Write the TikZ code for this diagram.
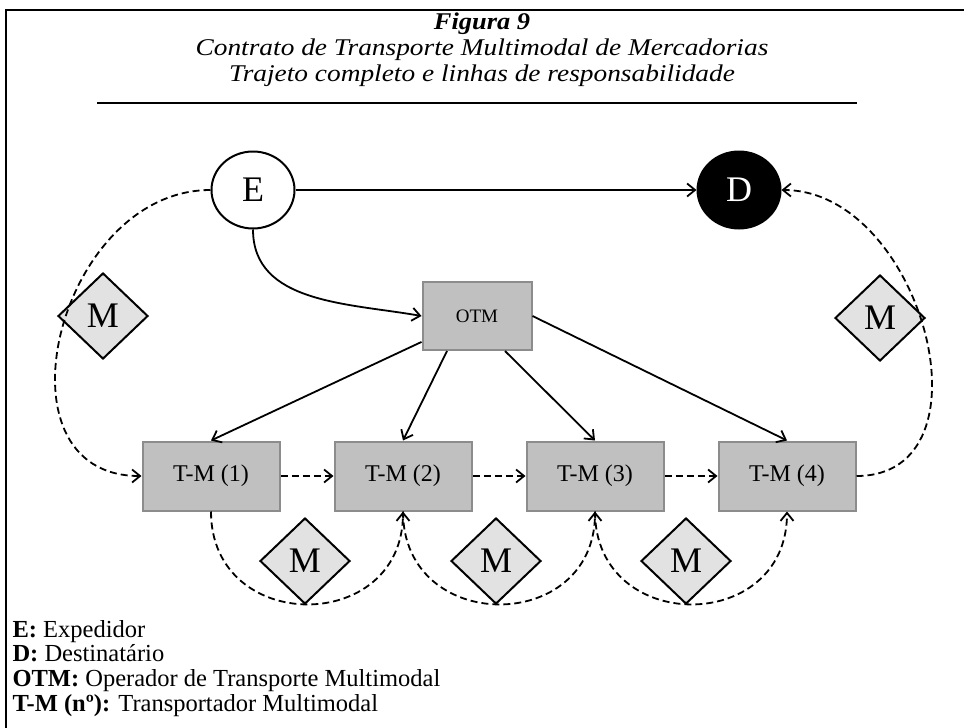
\documentclass[tikz,border=0pt]{standalone}
\usepackage{graphicx}
\usepackage{fontspec}
\setmainfont{Liberation Serif}
\usetikzlibrary{shapes.geometric, arrows.meta, positioning}
\definecolor{boxgray}{HTML}{C0C0C0}
\definecolor{boxedge}{HTML}{8C8C8C}
\definecolor{mgray}{HTML}{E2E2E2}

\begin{document}
\begin{tikzpicture}[x=1pt, y=1pt,
  party/.style={ellipse, draw, line width=2pt, minimum width=83pt,
                minimum height=77pt, inner sep=0pt,
                font=\fontsize{36}{36}\selectfont},
  tm/.style={rectangle, fill=boxgray, draw=boxedge, line width=2pt,
             minimum width=137pt, minimum height=69pt,
             font=\fontsize{24}{24}\selectfont},
  resp/.style={diamond, fill=mgray, draw, line width=2pt,
               minimum width=90pt, minimum height=86pt, inner sep=0pt,
               font=\fontsize{36}{36}\selectfont},
  arr/.style={-{Straight Barb[length=8pt,width=13pt]}, line width=1.8pt},
  darr/.style={arr, dash pattern=on 7pt off 4pt},
  ttl/.style={anchor=base, inner sep=0pt, font=\fontsize{24}{24}\selectfont\itshape},
  legend/.style={anchor=base west, font=\fontsize{24.5}{25}\selectfont},
  node distance=53pt,
]
  \useasboundingbox (0,0) rectangle (964,-728);
  \draw[line width=2.5pt] (6,-10) rectangle (1000,-760);

  %% Title
  \node[ttl, font=\fontsize{24}{24}\selectfont\bfseries\itshape] (fig) at (482,-29) {\scalebox{1.1}[1]{Figura 9}};
  \node[ttl] (tit1) at (482,-55) {\scalebox{1.14}[1]{Contrato de Transporte Multimodal de Mercadorias}};
  \node[ttl] (tit2) at (482,-81) {\scalebox{1.14}[1]{Trajeto completo e linhas de responsabilidade}};
  \draw[line width=1.2pt] (97,-103) -- (857,-103);

  %% Parties and operator
  \node[party] (E) at (253,-190) {E};
  \node[party, fill=black, text=white] (D) at (739,-190) {D};
  \node[tm, minimum width=109pt, minimum height=68pt,
        font=\fontsize{19}{19}\selectfont] (OTM) at (477,-316) {OTM};

  %% Carriers
  \node[tm] (tm1) at (211,-476) {T-M (1)};
  \node[tm, right=of tm1] (tm2) {T-M (2)};
  \node[tm, right=of tm2] (tm3) {T-M (3)};
  \node[tm, right=of tm3] (tm4) {T-M (4)};

  %% Responsibility marks
  \node[resp] (m1) at (103,-316) {M};
  \node[resp] (m2) at (305,-561) {M};
  \node[resp] (m3) at (496,-561) {M};
  \node[resp] (m4) at (686,-561) {M};
  \node[resp] (m5) at (880,-318) {M};

  %% Contract lines
  \draw[arr] (E) -- (D);
  \draw[arr] (E.south) to[out=-90, in=170] (OTM.west);
  \draw[arr] (OTM) -- (tm1.north);
  \draw[arr] ([xshift=-30pt]OTM.south) -- (tm2.north);
  \draw[arr] ([xshift=28pt]OTM.south) -- (tm3.north);
  \draw[arr] (OTM.east) -- (tm4.north);

  %% Route
  \draw[darr] (tm1) -- (tm2);
  \draw[darr] (tm2) -- (tm3);
  \draw[darr] (tm3) -- (tm4);
  \draw[darr] (E.west) to[out=180, in=180, looseness=1.33] (tm1.west);
  \draw[darr] (tm4.east) to[out=0, in=0, looseness=1.22] (D.east);
  \draw[darr] (tm1.south) to[out=-90, in=-90, looseness=1.65] (tm2.south);
  \draw[darr] (tm2.south) to[out=-90, in=-90, looseness=1.65] (tm3.south);
  \draw[darr] (tm3.south) to[out=-90, in=-90, looseness=1.65] (tm4.south);

  %% Legend
  \node[legend] (l1) at (9,-637) {\textbf{E:} Expedidor};
  \node[legend] (l2) at (9,-661) {\textbf{D:} Destinatário};
  \node[legend] (l3) at (9,-686) {\textbf{OTM:} Operador de Transporte Multimodal};
  \node[legend] (l4) at (9,-711) {\textbf{T-M (nº):} Transportador Multimodal};
\end{tikzpicture}
\end{document}
